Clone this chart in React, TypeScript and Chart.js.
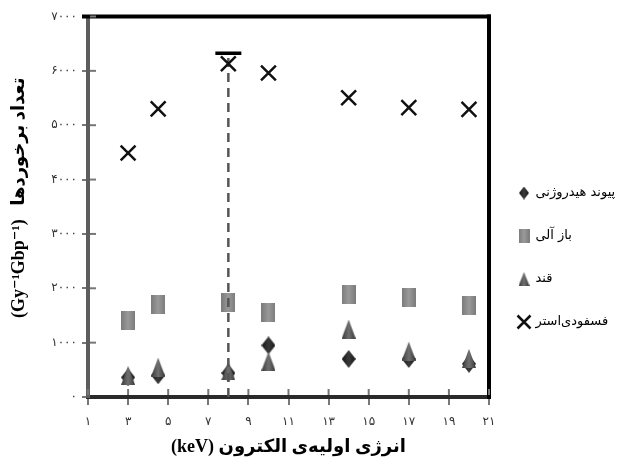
import React, { useEffect, useRef } from 'react';
import { Chart, registerables } from 'chart.js';

Chart.register(...registerables);

// ---- data ----
const energies = [3, 4.5, 8, 10, 14, 17, 20];
const hydrogenBond = [360, 400, 440, 950, 700, 700, 610];
const organicBase = [1400, 1695, 1735, 1550, 1885, 1823, 1685];
const sugar = [400, 550, 480, 660, 1250, 845, 710];
const phosphodiester = [4490, 5300, 6130, 5960, 5505, 5323, 5292];
const errorX = [8, 8];
const errorY = [0, 6325];
const seriesNames = ['پیوند هیدروژنی', 'باز آلی', 'قند', 'فسفودی‌استر'];
const xTickValues = [1, 3, 5, 7, 9, 11, 13, 15, 17, 19, 21];
const xTickLabels = ['۱', '۳', '۵', '۷', '۹', '۱۱', '۱۳', '۱۵', '۱۷', '۱۹', '۲۱'];
const yTickValues = [0, 1000, 2000, 3000, 4000, 5000, 6000, 7000];
const yTickLabels = ['۰', '۱۰۰۰', '۲۰۰۰', '۳۰۰۰', '۴۰۰۰', '۵۰۰۰', '۶۰۰۰', '۷۰۰۰'];
const xTitle = '(keV) انرژی اولیه‌ی الکترون';
const yTitle = '    (Gy⁻¹Gbp⁻¹)   تعداد برخوردها';

function makeCanvas(w: number, h: number, draw: (ctx: CanvasRenderingContext2D) => void) {
  const c = document.createElement('canvas');
  c.width = w;
  c.height = h;
  const ctx = c.getContext('2d') as CanvasRenderingContext2D;
  draw(ctx);
  return c;
}

function hGrad(ctx: CanvasRenderingContext2D, w: number, edge: string, mid: string) {
  const g = ctx.createLinearGradient(0, 0, w, 0);
  g.addColorStop(0, edge);
  g.addColorStop(0.5, mid);
  g.addColorStop(1, edge);
  return g;
}

function rectMarker(w: number, h: number) {
  return makeCanvas(w, h, (ctx) => {
    ctx.fillStyle = hGrad(ctx, w, '#7b7b7b', '#9a9a9a');
    ctx.fillRect(0, 0, w, h);
  });
}
function triMarker(w: number, h: number) {
  return makeCanvas(w, h, (ctx) => {
    ctx.fillStyle = hGrad(ctx, w, '#383838', '#707070');
    ctx.beginPath();
    ctx.moveTo(w / 2, 0);
    ctx.lineTo(w, h);
    ctx.lineTo(0, h);
    ctx.closePath();
    ctx.fill();
  });
}
function diaMarker(w: number, h: number) {
  return makeCanvas(w, h, (ctx) => {
    ctx.fillStyle = hGrad(ctx, w, '#151515', '#3a3a3a');
    ctx.beginPath();
    ctx.moveTo(w / 2, 0);
    ctx.lineTo(w, h / 2);
    ctx.lineTo(w / 2, h);
    ctx.lineTo(0, h / 2);
    ctx.closePath();
    ctx.fill();
  });
}

const framePlugin = {
  id: 'frame',
  beforeDatasetsDraw(chart: any) {
    const { ctx, chartArea } = chart;
    const { left, right, top, bottom } = chartArea;
    const xs = chart.scales.x;
    const ys = chart.scales.y;
    ctx.save();
    ctx.fillStyle = '#000';
    ctx.fillRect(left - 6, top - 2, right - left + 8, 4);
    ctx.fillRect(right - 2, top - 2, 4, bottom - top + 4);
    ctx.fillStyle = '#777';
    xTickValues.forEach((v) => {
      const px = xs.getPixelForValue(v);
      ctx.fillRect(px - 1, bottom - 8, 2, 6);
    });
    yTickValues.forEach((v) => {
      const py = ys.getPixelForValue(v);
      if (v === 0) return;
      ctx.fillRect(left + 2, py - 1, 6, 2);
    });
    ctx.restore();
  },
};

export default function App() {
  const ref = useRef<HTMLCanvasElement | null>(null);

  useEffect(() => {
    if (!ref.current) return;
    const dataMarkers = [diaMarker(14, 18), rectMarker(14, 19), triMarker(14, 19)];
    const legendMarkers = [diaMarker(10, 13), rectMarker(11, 14), triMarker(11, 14)];
    const pts = (ys: number[]) => energies.map((x, i) => ({ x, y: ys[i] }));

    const chart = new Chart(ref.current, {
      type: 'scatter',
      data: {
        datasets: [
          {
            label: seriesNames[0],
            data: pts(hydrogenBond),
            pointStyle: dataMarkers[0],
            backgroundColor: '#222',
            borderColor: '#222',
            order: 5,
          },
          {
            label: seriesNames[1],
            data: pts(organicBase),
            pointStyle: dataMarkers[1],
            backgroundColor: '#888',
            borderColor: '#888',
            order: 4,
          },
          {
            label: seriesNames[2],
            data: pts(sugar),
            pointStyle: dataMarkers[2],
            backgroundColor: '#555',
            borderColor: '#555',
            order: 3,
          },
          {
            label: seriesNames[3],
            data: pts(phosphodiester),
            pointStyle: 'crossRot',
            pointRadius: 10.5,
            pointBorderWidth: 2.5,
            borderColor: '#111',
            backgroundColor: '#111',
            order: 0,
          },
          {
            type: 'line',
            label: 'err',
            data: errorX.map((x, i) => ({ x, y: errorY[i] })),
            borderColor: '#555',
            borderWidth: 2.5,
            borderDash: [9, 6],
            pointRadius: 0,
            showLine: true,
            order: 1,
          } as any,
          {
            label: 'cap',
            data: [{ x: errorX[1], y: errorY[1] }],
            pointStyle: 'line',
            pointRadius: 13,
            pointBorderWidth: 3.5,
            borderColor: '#000',
            order: -1,
          },
        ],
      },
      options: {
        responsive: true,
        maintainAspectRatio: false,
        animation: false,
        layout: { padding: { top: 13, left: 0, right: 0, bottom: 0 } },
        scales: {
          x: {
            type: 'linear',
            min: 1,
            max: 21,
            afterBuildTicks: (s: any) => {
              s.ticks = xTickValues.map((v) => ({ value: v }));
            },
            afterFit: (s: any) => {
              s.height = 69;
            },
            ticks: {
              autoSkip: false,
              maxRotation: 0,
              padding: 10,
              color: '#333',
              font: { family: "'DejaVu Sans'", size: 12 },
              callback: (v: any) => xTickLabels[xTickValues.indexOf(Number(v))] ?? '',
            },
            grid: { drawOnChartArea: false, drawTicks: true, tickLength: 8, color: '#777', lineWidth: 2 },
            border: { display: true, color: '#2a2a2a', width: 4 },
            title: {
              display: true,
              text: xTitle,
              color: '#000',
              font: { family: "'Liberation Serif', 'DejaVu Sans'", size: 18, weight: 'bold' },
              padding: { top: 0, bottom: 8 },
            },
          },
          y: {
            type: 'linear',
            min: 0,
            max: 7000,
            afterBuildTicks: (s: any) => {
              s.ticks = yTickValues.map((v) => ({ value: v }));
            },
            afterFit: (s: any) => {
              s.width = 88;
            },
            ticks: {
              padding: 5,
              color: '#333',
              font: { family: "'DejaVu Sans'", size: 12 },
              callback: (v: any) => yTickLabels[yTickValues.indexOf(Number(v))] ?? '',
            },
            grid: { drawOnChartArea: false, drawTicks: true, tickLength: 6, color: '#777', lineWidth: 2 },
            border: { display: true, color: '#5d5d5d', width: 4 },
            title: {
              display: true,
              text: yTitle,
              color: '#000',
              font: { family: "'Liberation Serif', 'DejaVu Sans'", size: 18, weight: 'bold' },
              padding: { top: 9, bottom: 0 },
            },
          },
        },
        plugins: {
          tooltip: { enabled: false },
          legend: {
            display: true,
            position: 'right',
            align: 'center',
            maxWidth: 129,
            title: { display: true, text: ' ', font: { size: 10 }, padding: { top: 24, bottom: 0 } },
            labels: {
              usePointStyle: true,
              boxWidth: 10,
              boxHeight: 13,
              padding: 30,
              color: '#000',
              font: { family: "'DejaVu Sans'", size: 13 },
              filter: (item: any) => item.datasetIndex < 4,
              sort: (a: any, b: any) => a.datasetIndex - b.datasetIndex,
              generateLabels: (c: any) => {
                const items = (Chart.defaults.plugins.legend.labels as any).generateLabels(c);
                return items.map((it: any) =>
                  it.datasetIndex < 3 ? { ...it, pointStyle: legendMarkers[it.datasetIndex] } : it
                );
              },
            },
          },
        },
      },
      plugins: [framePlugin],
    } as any);

    return () => chart.destroy();
  }, []);

  return (
    <div style={{ position: 'fixed', left: 0, top: 0, width: 618, height: 466, background: '#fff' }}>
      <canvas ref={ref} />
    </div>
  );
}
